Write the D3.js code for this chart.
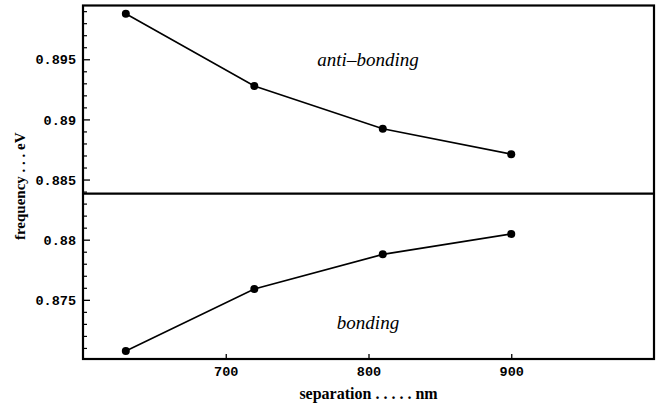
<!DOCTYPE html>
<html>
<head>
<meta charset="utf-8">
<script src="https://cdn.jsdelivr.net/npm/d3@7"></script>
<style>
  html, body { margin: 0; padding: 0; background: #fff; }
  svg { display: block; }
</style>
</head>
<body>
<svg id="chart" width="656" height="403"></svg>
<script>
// Coupled-mode frequencies versus separation
const separation = [630, 720, 810, 900];
const antiBonding = [0.89878, 0.89278, 0.88922, 0.88711];
const bonding = [0.87075, 0.87590, 0.87878, 0.88048];
const xTicks = [700, 800, 900];
const yTicks = [0.875, 0.88, 0.885, 0.89, 0.895];
const yTickLabels = ["0.875", "0.88", "0.885", "0.89", "0.895"];
const divider = 0.88383;

const svg = d3.select("#chart");
const plotLeft = 83, plotRight = 654, plotTop = 5.5, plotBottom = 359;

const x = d3.scaleLinear().domain([600, 1000]).range([plotLeft, plotRight]);
const y = d3.scaleLinear().domain([0.87008, 0.89947]).range([plotBottom, plotTop]);

// minor y ticks every 0.001
const minorY = d3.range(0.871, 0.8995, 0.001).filter(v => !yTicks.some(t => Math.abs(t - v) < 1e-6));

// y axis (ticks pointing into the plot)
const yAxis = d3.axisRight(y).tickValues(yTicks).tickSize(7)
  .tickFormat((d, i) => yTickLabels[i]);
const gy = svg.append("g").attr("transform", `translate(${plotLeft},0)`).call(yAxis);
gy.select(".domain").remove();
gy.selectAll(".tick line").attr("stroke", "#000").attr("stroke-width", 1.3);
gy.selectAll(".tick text")
  .attr("x", -7).attr("dy", "0.35em").attr("text-anchor", "end")
  .style("font-family", "'Liberation Mono', 'DejaVu Sans Mono', monospace")
  .style("font-weight", "bold").style("font-size", "13.5px").attr("fill", "#000");

const gyMinor = svg.append("g").attr("transform", `translate(${plotLeft},0)`)
  .call(d3.axisRight(y).tickValues(minorY).tickSize(4).tickFormat(""));
gyMinor.select(".domain").remove();
gyMinor.selectAll(".tick line").attr("stroke", "#000").attr("stroke-width", 1.2);

// x axis (ticks pointing up into the plot)
const xAxis = d3.axisTop(x).tickValues(xTicks).tickSize(5).tickFormat(d3.format("d"));
const gx = svg.append("g").attr("transform", `translate(0,${plotBottom})`).call(xAxis);
gx.select(".domain").remove();
gx.selectAll(".tick line").attr("stroke", "#000").attr("stroke-width", 1.3);
gx.selectAll(".tick text")
  .attr("y", 16.5).attr("dy", "0").attr("text-anchor", "middle")
  .style("font-family", "'Liberation Mono', 'DejaVu Sans Mono', monospace")
  .style("font-weight", "bold").style("font-size", "13.5px").attr("fill", "#000");

// frame
svg.append("rect")
  .attr("x", plotLeft).attr("y", plotTop)
  .attr("width", plotRight - plotLeft).attr("height", plotBottom - plotTop)
  .attr("fill", "none").attr("stroke", "#000").attr("stroke-width", 2.2);

// divider between the two branches
svg.append("line")
  .attr("x1", plotLeft).attr("x2", plotRight)
  .attr("y1", y(divider)).attr("y2", y(divider))
  .attr("stroke", "#000").attr("stroke-width", 2.2);

const line = d3.line().x((d, i) => x(separation[i])).y(d => y(d));

[antiBonding, bonding].forEach(series => {
  svg.append("path").datum(series)
    .attr("d", line).attr("fill", "none")
    .attr("stroke", "#000").attr("stroke-width", 1.6);
  svg.append("g").selectAll("circle").data(series).join("circle")
    .attr("cx", (d, i) => x(separation[i])).attr("cy", d => y(d))
    .attr("r", 4).attr("fill", "#000");
});

// branch labels
svg.append("text").attr("x", 368).attr("y", 66).attr("text-anchor", "middle")
  .style("font-family", "'Liberation Serif', 'DejaVu Serif', serif")
  .style("font-style", "italic").style("font-size", "19px").text("anti–bonding");
svg.append("text").attr("x", 368).attr("y", 329).attr("text-anchor", "middle")
  .style("font-family", "'Liberation Serif', 'DejaVu Serif', serif")
  .style("font-style", "italic").style("font-size", "19px").text("bonding");

// axis titles
svg.append("text").attr("x", (plotLeft + plotRight) / 2).attr("y", 399).attr("text-anchor", "middle")
  .style("font-family", "'Liberation Serif', 'DejaVu Serif', serif")
  .style("font-weight", "bold").style("font-size", "16px").text("separation . . . . . nm");
svg.append("text")
  .attr("transform", `translate(25,${(plotTop + plotBottom) / 2 + 4}) rotate(-90)`)
  .attr("text-anchor", "middle")
  .style("font-family", "'Liberation Serif', 'DejaVu Serif', serif")
  .style("font-weight", "bold").style("font-size", "15px").text("frequency . . . eV");
</script>
</body>
</html>
